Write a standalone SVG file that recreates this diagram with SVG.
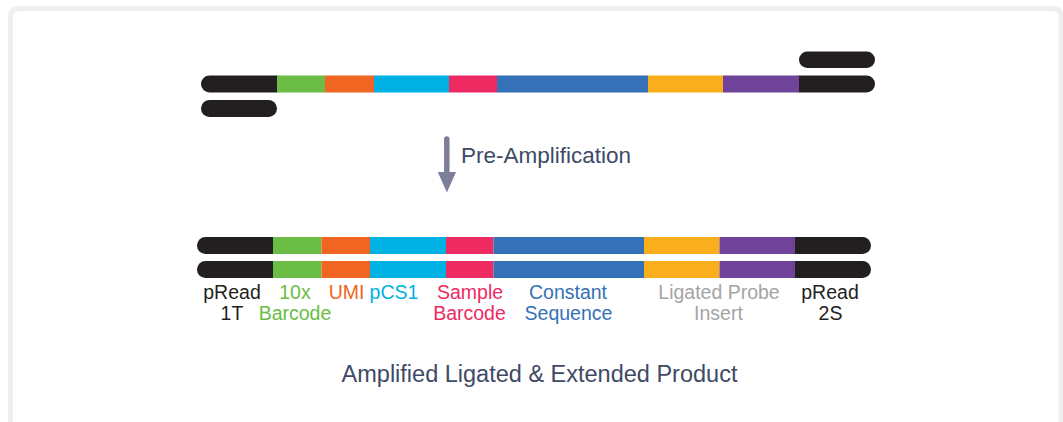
<svg xmlns="http://www.w3.org/2000/svg" width="1063" height="422" viewBox="0 0 1063 422">
<style>
.k{fill:#231f20}.g{fill:#6bbd45}.o{fill:#f06522}.c{fill:#00b2e3}.p{fill:#ee2a62}.b{fill:#3571b6}.y{fill:#fbae1b}.v{fill:#6f4399}
text{font-family:"Liberation Sans",Arial,sans-serif}
.lab{font-size:19.5px;text-anchor:middle}
.cap{fill:#3e4a66}
</style>
<rect width="1063" height="422" fill="#ffffff"/>
<path d="M10.5 430 V17 Q10.5 8.5 19 8.5 H1053 Q1061 8.5 1061 17 V430" fill="none" stroke="#eef0f0" stroke-width="5"/>
<g id="strand-top">
<rect class="k" x="201" y="75.5" width="84" height="17" rx="8.5"/>
<rect class="g" x="277" y="75.5" width="48" height="17"/>
<rect class="o" x="325" y="75.5" width="49" height="17"/>
<rect class="c" x="374" y="75.5" width="75" height="17"/>
<rect class="p" x="449" y="75.5" width="48" height="17"/>
<rect class="b" x="497" y="75.5" width="151" height="17"/>
<rect class="y" x="648" y="75.5" width="75" height="17"/>
<rect class="k" x="791" y="75.5" width="84" height="17" rx="8.5"/>
<rect class="v" x="723" y="75.5" width="76" height="17"/>
</g>
<g id="primer-left"><rect class="k" x="201" y="100" width="76" height="17" rx="8.5"/></g>
<g id="primer-right"><rect class="k" x="799" y="51.5" width="76" height="16.5" rx="8.25"/></g>
<g id="connectors">
<line x1="446.8" y1="139" x2="446.8" y2="176" stroke="#7d7f99" stroke-width="5.5" stroke-linecap="round"/>
<polygon points="437.8,172 456,172 446.9,192.5" fill="#7d7f99"/>
</g>
<g id="label-preamp"><text class="cap" x="461" y="163" font-size="22.5">Pre-Amplification</text></g>
<g id="strand-bottom-1">
<rect class="k" x="197" y="237" width="84" height="17" rx="8.5"/>
<rect class="g" x="273" y="237" width="48.5" height="17"/>
<rect class="o" x="321.5" y="237" width="48.5" height="17"/>
<rect class="c" x="370" y="237" width="76" height="17"/>
<rect class="p" x="446" y="237" width="47.5" height="17"/>
<rect class="b" x="493.5" y="237" width="150.5" height="17"/>
<rect class="y" x="644" y="237" width="75.5" height="17"/>
<rect class="k" x="787" y="237" width="84" height="17" rx="8.5"/>
<rect class="v" x="719.5" y="237" width="75.5" height="17"/>
</g>
<g id="strand-bottom-2">
<rect class="k" x="197" y="261" width="84" height="17" rx="8.5"/>
<rect class="g" x="273" y="261" width="48.5" height="17"/>
<rect class="o" x="321.5" y="261" width="48.5" height="17"/>
<rect class="c" x="370" y="261" width="76" height="17"/>
<rect class="p" x="446" y="261" width="47.5" height="17"/>
<rect class="b" x="493.5" y="261" width="150.5" height="17"/>
<rect class="y" x="644" y="261" width="75.5" height="17"/>
<rect class="k" x="787" y="261" width="84" height="17" rx="8.5"/>
<rect class="v" x="719.5" y="261" width="75.5" height="17"/>
</g>
<g id="labels">
<text class="lab k" x="232" y="299">pRead</text><text class="lab k" x="232" y="320">1T</text>
<text class="lab g" x="295" y="299">10x</text><text class="lab g" x="295" y="320">Barcode</text>
<text class="lab o" x="346.5" y="299">UMI</text>
<text class="lab c" x="394" y="299">pCS1</text>
<text class="lab p" x="470" y="299">Sample</text><text class="lab p" x="469.5" y="320">Barcode</text>
<text class="lab b" x="568" y="299">Constant</text><text class="lab b" x="568.5" y="320">Sequence</text>
<text class="lab" fill="#a4a4a4" x="719" y="299">Ligated Probe</text><text class="lab" fill="#a4a4a4" x="718.5" y="320">Insert</text>
<text class="lab k" x="830" y="299">pRead</text><text class="lab k" x="830.5" y="320">2S</text>
</g>
<g id="title"><text class="cap" x="539.5" y="381.5" font-size="23.5" text-anchor="middle">Amplified Ligated &amp; Extended Product</text></g>
</svg>
